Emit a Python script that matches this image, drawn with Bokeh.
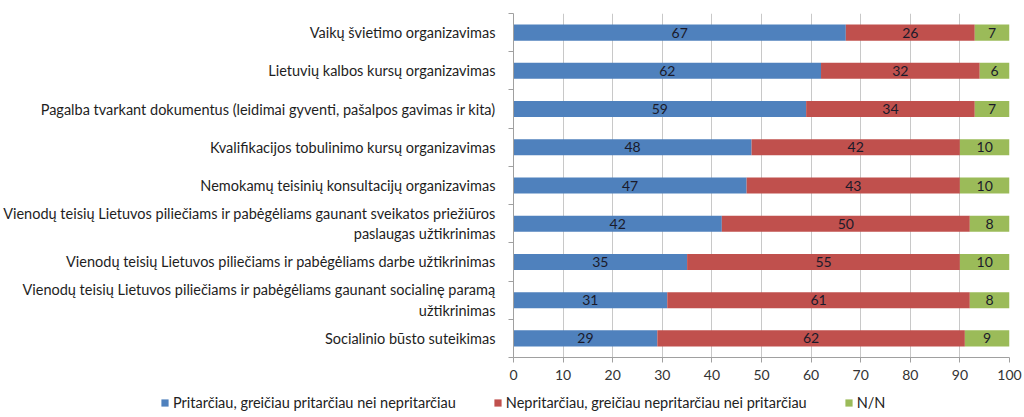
from bokeh.plotting import figure
from bokeh.layouts import column
from bokeh.models import ColumnDataSource, FixedTicker, Range1d, LabelSet, Legend
from bokeh.core.properties import value
from bokeh.embed import file_html
from bokeh.resources import INLINE

categories = [
    "Vaikų švietimo organizavimas",
    "Lietuvių kalbos kursų organizavimas",
    "Pagalba tvarkant dokumentus (leidimai gyventi, pašalpos gavimas ir kita)",
    "Kvalifikacijos tobulinimo kursų organizavimas",
    "Nemokamų teisinių konsultacijų organizavimas",
    "Vienodų teisių Lietuvos piliečiams ir pabėgėliams gaunant sveikatos priežiūros\npaslaugas užtikrinimas",
    "Vienodų teisių Lietuvos piliečiams ir pabėgėliams darbe užtikrinimas",
    "Vienodų teisių Lietuvos piliečiams ir pabėgėliams gaunant socialinę paramą\nužtikrinimas",
    "Socialinio būsto suteikimas",
]
agree = [67, 62, 59, 48, 47, 42, 35, 31, 29]
disagree = [26, 32, 34, 42, 43, 50, 55, 61, 62]
nn = [7, 6, 7, 10, 10, 8, 10, 8, 9]
series_names = [
    "Pritarčiau, greičiau pritarčiau nei nepritarčiau",
    "Nepritarčiau, greičiau nepritarčiau nei pritarčiau",
    "N/N",
]
x_ticks = [0, 10, 20, 30, 40, 50, 60, 70, 80, 90, 100]

colors = ["#4F81BD", "#C0504D", "#9BBB59"]
FONT = "Lato"

n = len(categories)
ypos = [n - 1 - i + 0.5 for i in range(n)]

src = ColumnDataSource(dict(
    y=ypos, agree=agree, disagree=disagree, nn=nn,
    a_mid=[a / 2 for a in agree],
    d_mid=[a + d / 2 for a, d in zip(agree, disagree)],
    n_mid=[a + d + m / 2 for a, d, m in zip(agree, disagree, nn)],
    a_lab=[str(v) for v in agree],
    d_lab=[str(v) for v in disagree],
    n_lab=[str(v) for v in nn],
))

p = figure(width=1024, height=387, output_backend="svg", toolbar_location=None,
           x_range=Range1d(0, 100), y_range=Range1d(0, n),
           min_border_left=510, min_border_right=15, min_border_top=13, min_border_bottom=30)
p.outline_line_color = None
p.background_fill_color = "white"
p.frame_align = False

p.hbar_stack(["agree", "disagree", "nn"], y="y", height=0.42, color=colors,
             source=src, line_color=None)

for xcol, tcol in [("a_mid", "a_lab"), ("d_mid", "d_lab"), ("n_mid", "n_lab")]:
    p.add_layout(LabelSet(x=xcol, y="y", text=tcol, source=src, text_align="center",
                          text_baseline="middle", text_font=value(FONT), text_font_size="14px",
                          text_color="#1a1a2a"))

# x axis
p.xaxis.ticker = FixedTicker(ticks=x_ticks)
p.xaxis.axis_line_color = "#a0a0a0"
p.xaxis.major_tick_line_color = "#a0a0a0"
p.xaxis.major_tick_out = 5
p.xaxis.major_tick_in = 0
p.xaxis.minor_tick_line_color = None
p.xaxis.major_label_text_font = FONT
p.xaxis.major_label_text_font_size = "14px"
p.xaxis.major_label_text_color = "#333333"
p.xaxis.major_label_standoff = 7

# y axis
p.yaxis.ticker = FixedTicker(ticks=ypos, minor_ticks=list(range(n + 1)))
p.yaxis.major_label_overrides = {y: c for y, c in zip(ypos, categories)}
p.yaxis.axis_line_color = "#a0a0a0"
p.yaxis.major_tick_line_color = None
p.yaxis.minor_tick_line_color = "#a0a0a0"
p.yaxis.minor_tick_out = 5
p.yaxis.minor_tick_in = 0
p.yaxis.major_label_text_font = FONT
p.yaxis.major_label_text_font_size = "14.5px"
p.yaxis.major_label_text_color = "#1e1e1e"
p.yaxis.major_label_text_align = "center"
p.yaxis.major_label_standoff = 12

p.xgrid.ticker = FixedTicker(ticks=x_ticks[1:])
p.xgrid.grid_line_color = "#c8c8c8"
p.ygrid.grid_line_color = None

# legend strip: its bars sit outside its visible y range; only the legend shows
q = figure(width=1024, height=30, output_backend="svg", toolbar_location=None,
           x_range=Range1d(0, 100), y_range=Range1d(100, 101),
           x_axis_location=None, y_axis_location=None, min_border=0)
q.outline_line_color = None
q.grid.grid_line_color = None
q.frame_align = False
rs = q.hbar_stack(["agree", "disagree", "nn"], y="y", height=0.42, color=colors,
                  source=src, line_color=None)
lg = Legend(items=[(name, [r]) for name, r in zip(series_names, rs)])
lg.orientation = "horizontal"
lg.location = (160, 6)
lg.border_line_alpha = 0
lg.background_fill_alpha = 0
lg.glyph_width = 9
lg.glyph_height = 9
lg.label_standoff = 4
lg.spacing = 37
lg.padding = 0
lg.margin = 0
lg.label_text_font = FONT
lg.label_text_font_size = "14.5px"
lg.label_text_color = "#222222"
q.add_layout(lg, "center")

layout = column(p, q, spacing=0)
open("out.html", "w").write(file_html(layout, INLINE))
